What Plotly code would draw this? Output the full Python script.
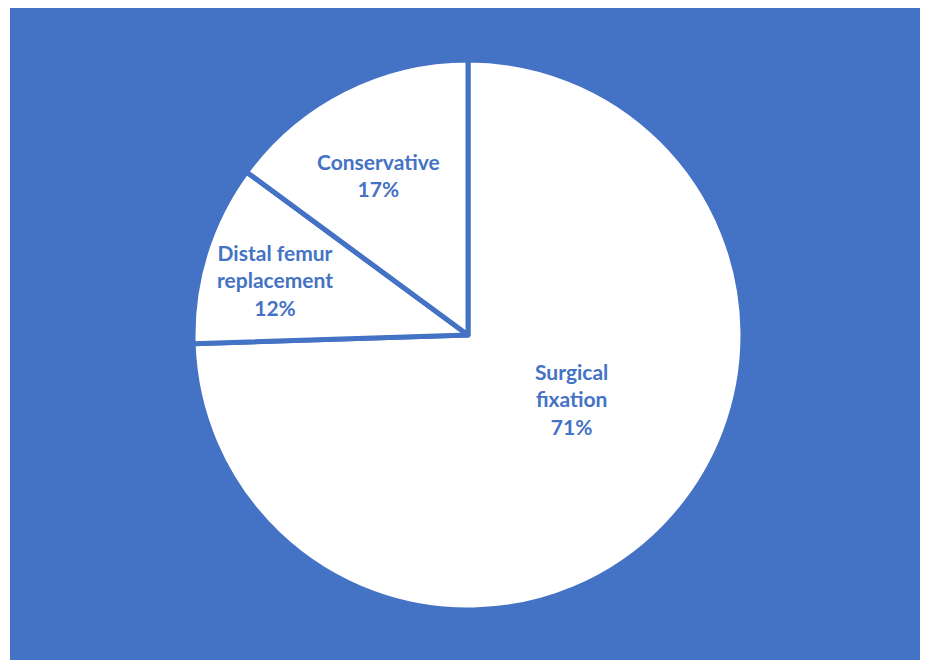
import plotly.graph_objects as go

categories = ["Surgical fixation", "Distal femur replacement", "Conservative"]
label_lines = ["Surgical<br>fixation", "Distal femur<br>replacement", "Conservative"]
slice_values = [74.5, 10.6, 14.9]   # angular share as drawn
percent_labels = ["71%", "12%", "17%"]

BLUE = "#4472C4"
W, H = 928, 660
cx, cy, R = 460, 327, 275
# label block centres, as pixel offsets from the pie centre (layout only)
label_offsets = [(103, 64), (-193, -55), (-90, -160)]

fig = go.Figure(go.Pie(
    labels=categories,
    values=slice_values,
    textinfo="none",
    sort=False,
    direction="clockwise",
    rotation=0,
    marker=dict(colors=["white"] * 3, line=dict(color=BLUE, width=5)),
    hoverinfo="skip",
    domain=dict(x=[(cx - R) / W, (cx + R) / W], y=[1 - (cy + R) / H, 1 - (cy - R) / H]),
    showlegend=False,
))

annotations = []
for name, pct, (dx, dy) in zip(label_lines, percent_labels, label_offsets):
    annotations.append(dict(
        text=f"{name}<br>{pct}",
        xref="paper", yref="paper",
        x=(cx + dx) / W, y=1 - (cy + dy) / H,
        xanchor="center", yanchor="middle",
        showarrow=False, align="center",
        font=dict(family="Lato", size=21, color=BLUE, weight="bold"),
    ))

fig.update_layout(
    width=W, height=H,
    margin=dict(l=0, r=0, t=0, b=0),
    paper_bgcolor=BLUE,
    annotations=annotations,
    shapes=[
        dict(type="rect", xref="paper", yref="paper", x0=0, x1=2 / W, y0=0, y1=1,
             fillcolor="white", line=dict(width=0)),
    ],
)

fig.write_html("out.html", config={"displayModeBar": False})
